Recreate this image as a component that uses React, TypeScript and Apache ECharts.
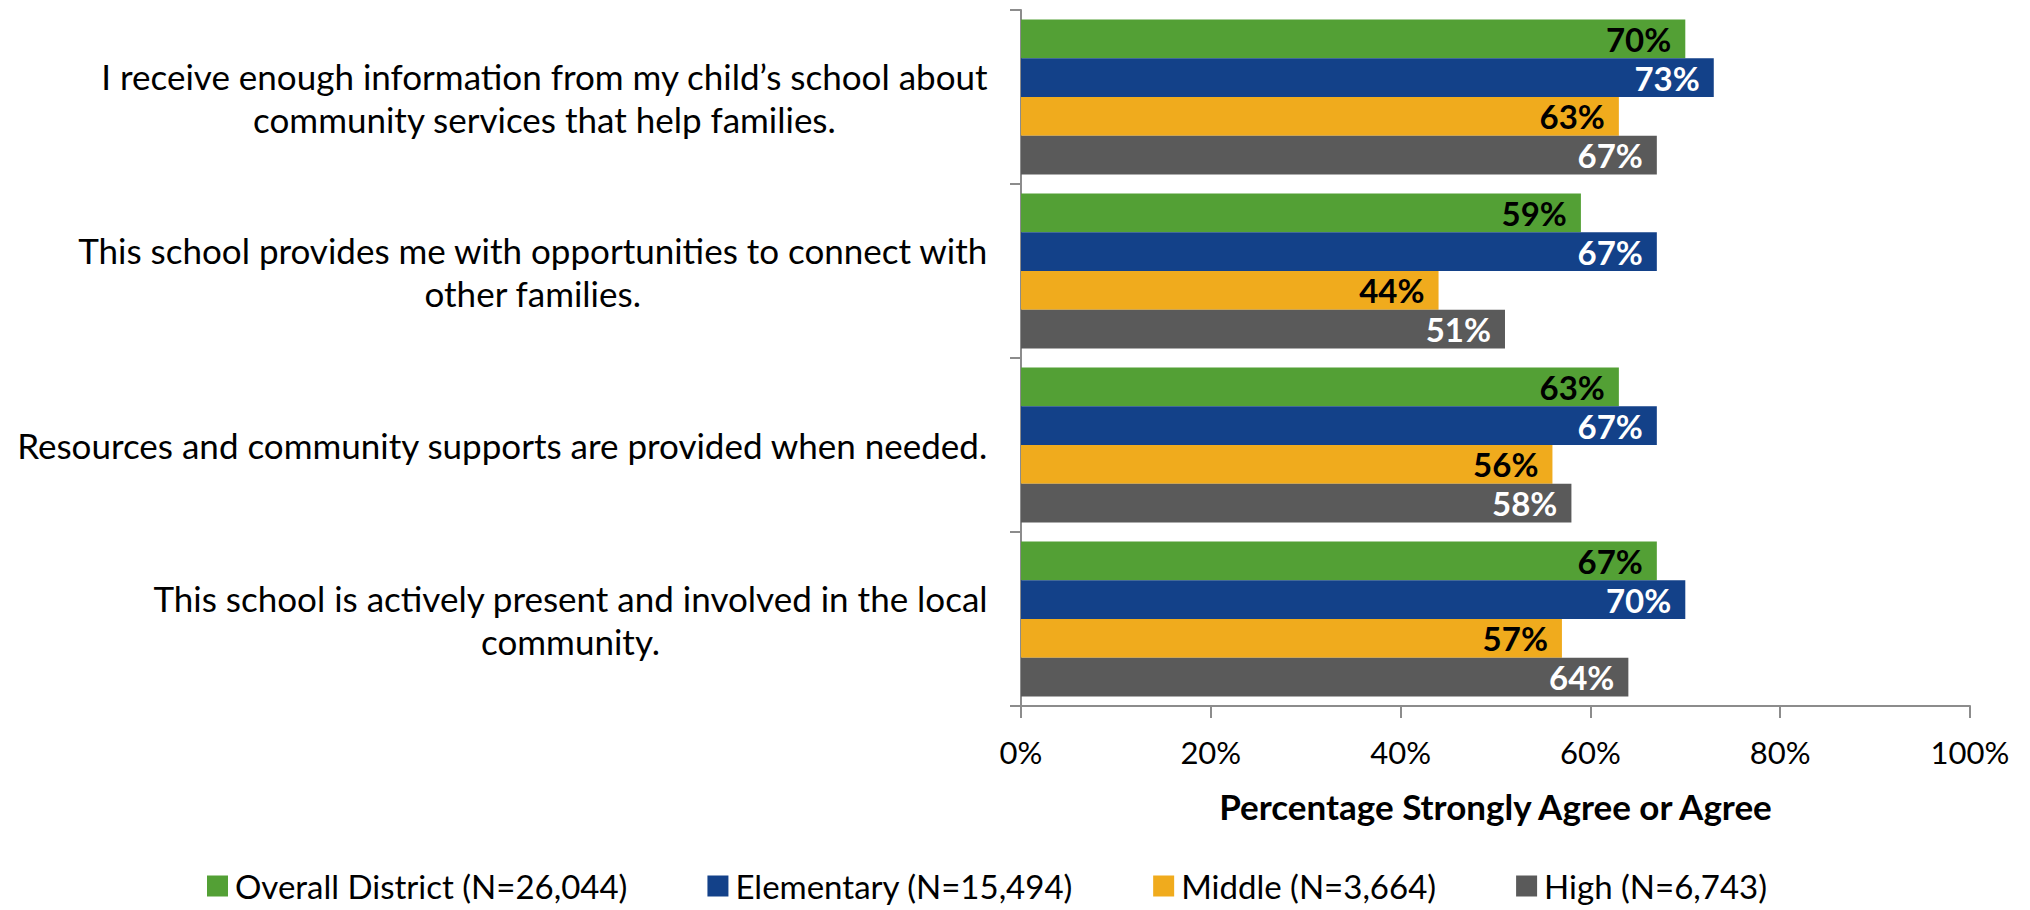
import React, { useEffect, useRef } from "react";
import * as echarts from "echarts";

const categories = [
  "I receive enough information from my child’s school about\ncommunity services that help families.",
  "This school provides me with opportunities to connect with\nother families.",
  "Resources and community supports are provided when needed.",
  "This school is actively present and involved in the local\ncommunity.",
];
const overallDistrict = [70, 59, 63, 67];
const elementary = [73, 67, 67, 70];
const middle = [63, 44, 56, 57];
const high = [67, 51, 58, 64];
const seriesNames = [
  "Overall District (N=26,044)",
  "Elementary (N=15,494)",
  "Middle (N=3,664)",
  "High (N=6,743)",
];
const colors = ["#53A035", "#134189", "#F0AB1D", "#5A5A5A"];
const labelColors = ["#000000", "#FFFFFF", "#000000", "#FFFFFF"];
const xTicks = { min: 0, max: 100, interval: 20 };
const axisTitle = "Percentage Strongly Agree or Agree";

const FONT = "Lato";

export default function App() {
  const ref = useRef<HTMLDivElement>(null);
  useEffect(() => {
    document.body.style.margin = "0";
    const chart = echarts.init(ref.current!, null, { renderer: "svg" });
    const data = [overallDistrict, elementary, middle, high];
    chart.setOption({
      animation: false,
      backgroundColor: "#FFFFFF",
      grid: { left: 1021, right: 60, top: 10, bottom: 204 },
      legend: {
        left: 207,
        top: 866,
        itemWidth: 21,
        itemHeight: 21,
        itemGap: 80,
        icon: "rect",
        padding: 0,
        textStyle: { fontFamily: FONT, fontSize: 33, lineHeight: 40, color: "#000000", padding: [0, 0, 0, 2] },
        data: seriesNames,
      },
      xAxis: {
        type: "value",
        min: xTicks.min,
        max: xTicks.max,
        interval: xTicks.interval,
        splitLine: { show: false },
        axisLine: { show: true, lineStyle: { color: "#8C8C8C", width: 2 } },
        axisTick: { show: true, length: 12, lineStyle: { color: "#8C8C8C", width: 2 } },
        axisLabel: {
          formatter: "{value}%",
          fontFamily: FONT,
          fontSize: 31,
          color: "#000000",
          margin: 30,
        },
        name: axisTitle,
        nameLocation: "middle",
        nameGap: 82,
        nameTextStyle: { fontFamily: FONT, fontSize: 35, fontWeight: "bold", color: "#000000" },
      },
      yAxis: {
        type: "category",
        inverse: true,
        data: categories,
        axisLine: { show: true, lineStyle: { color: "#8C8C8C", width: 2 } },
        axisTick: { show: true, length: 11, lineStyle: { color: "#8C8C8C", width: 2 } },
        axisLabel: {
          margin: 33,
          align: "right",
          formatter: (v: string) =>
            v
              .split("\n")
              .map((l) => `{c|${l}}`)
              .join("\n"),
          rich: {
            c: {
              align: "center",
              fontFamily: FONT,
              fontSize: 35,
              lineHeight: 43,
              color: "#000000",
            },
          },
        },
      },
      series: data.map((d, i) => ({
        name: seriesNames[i],
        type: "bar",
        data: d,
        barGap: "0%",
        barCategoryGap: "11%",
        itemStyle: { color: colors[i] },
        label: {
          show: true,
          position: "insideRight",
          distance: 14,
          formatter: "{c}%",
          fontFamily: FONT,
          fontSize: 33,
          fontWeight: "bold",
          color: labelColors[i],
        },
      })),
    });
    return () => chart.dispose();
  }, []);
  return <div ref={ref} style={{ width: 2030, height: 910 }} />;
}
